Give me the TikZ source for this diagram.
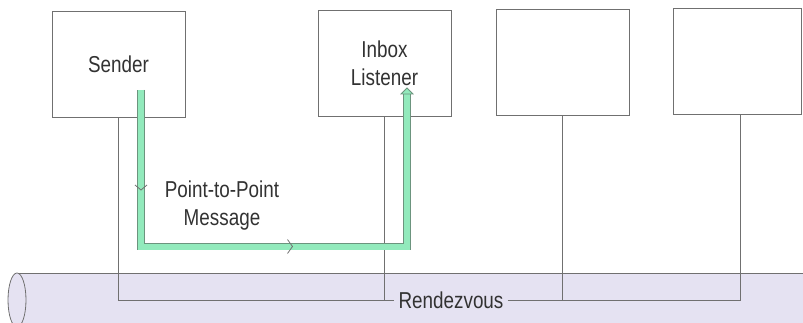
\documentclass[tikz,border=0pt]{standalone}
\usepackage{fontspec}
\setmainfont{Liberation Sans}[FakeStretch=0.82]
\usetikzlibrary{calc, decorations.markings}
\definecolor{linegray}{RGB}{112,112,112}
\definecolor{mint}{RGB}{146,234,188}
\definecolor{bandedge}{RGB}{108,148,126}
\definecolor{pipecol}{RGB}{229,226,242}
\definecolor{txtgray}{RGB}{50,50,50}
\tikzstyle{box}=[draw=linegray, fill=white, line width=0.8pt, minimum width=133pt, minimum height=106pt, inner sep=0pt, align=center, text=txtgray]
\tikzstyle{lbl}=[text=txtgray, align=center, inner sep=0pt]
\tikzstyle{wire}=[draw=linegray, line width=0.7pt]
\tikzstyle{band}=[draw=bandedge, double=mint, double distance=6pt, line width=0.8pt]
\tikzstyle{chev}=[draw=linegray, line width=0.8pt]

\begin{document}
\begin{tikzpicture}[x=1pt,y=-1pt,font=\fontsize{23}{28}\selectfont]
      \useasboundingbox (0,0) rectangle (803,323);
      \clip (0,0) rectangle (803,323);

      % pipe
      \fill[pipecol] (17,273) rectangle (810,330);
      \draw[linegray, line width=0.7pt] (17,273) -- (810,273);
      \draw[linegray, line width=0.8pt, fill=pipecol] (17,300) ellipse [x radius=9, y radius=27];

      \node [box] (sender) at (118.5,64) {Sender};
      \node [box] (inbox) at (384.5,63) {Inbox\\Listener};
      \node [box] (b3) at (562.5,62) {};
      \node [box, minimum width=128pt] (b4) at (737,61) {};

      \node [lbl, inner sep=4pt] (rdv) at (451,300) {Rendezvous};
      \node [lbl] (msg) at (222,206) {Point-to-Point\\Message};

      \draw[wire] (sender.south) |- (rdv.west);
      \draw[wire] (rdv.east) -| ($(b4.south)+(3,0)$);
      \draw[wire] (inbox.south) -- (inbox.south |- rdv.west);
      \draw[wire] (b3.south) -- (b3.south |- rdv.east);

      % message path
      \coordinate (msgfrom) at (141,90);
      \coordinate (msgturn) at (407,246.5);
      \coordinate (msgto) at (407,88);
      \draw[band, postaction={decorate, decoration={markings,
            mark=at position 100pt with {\draw[chev] (-5,6) -- (0,0) -- (-5,-6);},
            mark=at position 308pt with {\draw[chev] (-5,7) -- (0,0) -- (-5,-7);}}}]
            (msgfrom) |- (msgturn) -- ($(msgto)+(0,6)$);
      \filldraw[fill=mint, draw=bandedge, line width=0.8pt]
            ($(msgto)+(-6,6)$) -- (msgto) -- ($(msgto)+(6,6)$) -- cycle;
\end{tikzpicture}
\end{document}
